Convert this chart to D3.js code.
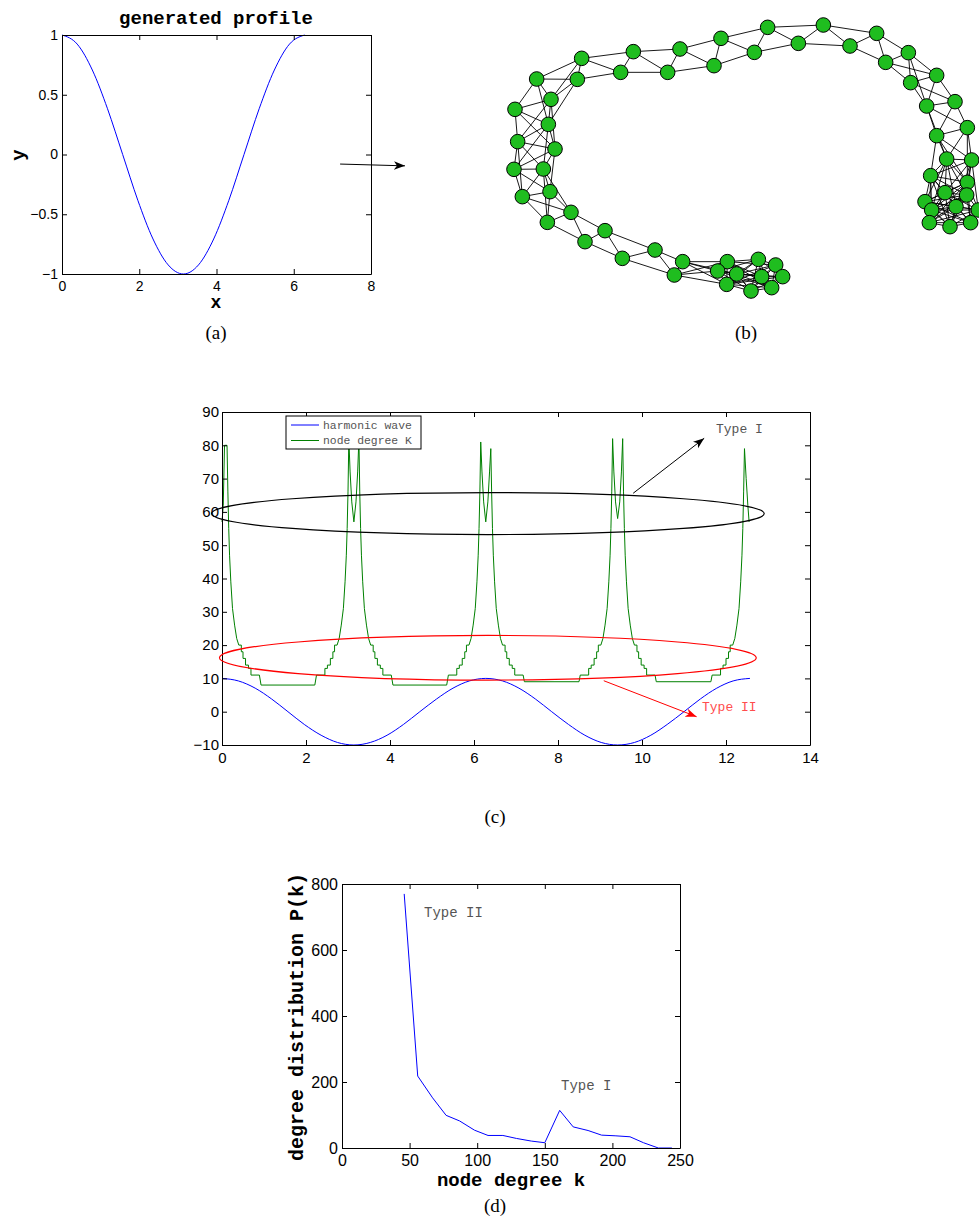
<!DOCTYPE html>
<html>
<head>
<meta charset="utf-8">
<script src="https://cdn.jsdelivr.net/npm/d3@7/dist/d3.min.js"></script>
<style>
  html, body { margin: 0; padding: 0; background: #fff; }
  svg { display: block; }
</style>
</head>
<body>
<script>
// ---------------- DATA ----------------
// (a) generated profile: y = cos(x) sampled at pi/8
const profileX = [0, 0.393, 0.785, 1.178, 1.571, 1.963, 2.356, 2.749, 3.142, 3.534, 3.927, 4.320, 4.712, 5.105, 5.498, 5.890, 6.283];
const profileY = [1, 0.924, 0.707, 0.383, 0, -0.383, -0.707, -0.924, -1, -0.924, -0.707, -0.383, 0, 0.383, 0.707, 0.924, 1];
const aXTicks = [0, 2, 4, 6, 8];
const aYTicks = [-1, -0.5, 0, 0.5, 1];

// (b) network layout (layout units)
const netNodes = [
  [140,207],[275,145],[262,208],[430,125],[392,187],[570,117],[533,187],[693,85],[672,167],[833,52],
  [793,127],[1000,45],[925,100],[1160,70],[1080,108],[1255,128],[1187,157],[1340,196],[1262,218],[1395,275],
  [1310,288],[1432,353],[1340,377],[1445,450],[1370,447],[1322,497],[1432,517],[1365,548],[1430,555],[1305,575],
  [1325,600],[1398,590],[1465,600],[1318,638],[1380,650],[1442,638],
  [183,268],[75,298],[175,343],[83,395],[195,417],[72,478],[160,477],[97,560],[180,545],[243,607],
  [172,637],[345,662],[285,695],[495,720],[397,745],[578,755],[553,795],[712,755],[683,783],[805,748],
  [857,765],[740,792],[815,800],[878,800],[710,823],[783,843],[845,833]
];
const linkRadius = 170;

// (c) harmonic wave (10 cos x) and node degree K
const waveX = [0, 0.39, 0.79, 1.18, 1.57, 1.96, 2.36, 2.75, 3.14, 3.53, 3.93, 4.32, 4.71, 5.11, 5.50, 5.89, 6.28,
               6.68, 7.07, 7.46, 7.85, 8.25, 8.64, 9.03, 9.42, 9.82, 10.21, 10.60, 11.00, 11.39, 11.78, 12.17, 12.57];
const waveY = [10, 9.24, 7.07, 3.83, 0, -3.83, -7.07, -9.24, -10, -9.24, -7.07, -3.83, 0, 3.83, 7.07, 9.24, 10,
               9.24, 7.07, 3.83, 0, -3.83, -7.07, -9.24, -10, -9.24, -7.07, -3.83, 0, 3.83, 7.07, 9.24, 10];
const degreeK = [
  [0,57],[0.03,62],[0.06,80],[0.12,80],
  [0.14,66],[0.16,55],[0.18,47],[0.21,39],[0.25,31],[0.30,26],[0.35,22],[0.40,20],[0.46,20],[0.46,18],[0.50,18],[0.50,16],[0.56,16],[0.56,14],[0.63,14],[0.63,13],[0.69,13],[0.69,11],[0.89,11],[0.93,8],
  [2.21,8],[2.25,11],[2.45,11],[2.45,13],[2.51,13],[2.51,14],[2.58,14],[2.58,16],[2.64,16],[2.64,18],[2.68,18],[2.68,20],[2.74,20],[2.79,22],[2.84,26],[2.89,31],[2.93,39],[2.96,47],[2.98,55],[3.00,66],[3.02,82],
  [3.05,72],[3.09,63],[3.14,57],[3.19,63],[3.23,72],[3.26,82],
  [3.28,66],[3.30,55],[3.32,47],[3.35,39],[3.39,31],[3.44,26],[3.49,22],[3.54,20],[3.60,20],[3.60,18],[3.64,18],[3.64,16],[3.70,16],[3.70,14],[3.77,14],[3.77,13],[3.83,13],[3.83,11],[4.03,11],[4.07,8],
  [5.35,8],[5.39,11],[5.59,11],[5.59,13],[5.65,13],[5.65,14],[5.72,14],[5.72,16],[5.78,16],[5.78,18],[5.82,18],[5.82,20],[5.88,20],[5.93,22],[5.98,26],[6.03,31],[6.07,39],[6.10,47],[6.12,55],[6.14,66],[6.16,81],
  [6.19,72],[6.23,63],[6.28,57],[6.33,63],[6.37,72],[6.40,79],
  [6.42,66],[6.44,55],[6.46,47],[6.49,39],[6.53,31],[6.58,26],[6.63,22],[6.68,20],[6.74,20],[6.74,18],[6.78,18],[6.78,16],[6.84,16],[6.84,14],[6.91,14],[6.91,13],[6.97,13],[6.97,11],[7.17,11],[7.20,9],
  [8.50,9],[8.53,11],[8.73,11],[8.73,13],[8.79,13],[8.79,14],[8.86,14],[8.86,16],[8.92,16],[8.92,18],[8.96,18],[8.96,20],[9.02,20],[9.07,22],[9.12,26],[9.17,31],[9.21,39],[9.24,47],[9.26,55],[9.28,66],[9.30,82],
  [9.33,72],[9.37,63],[9.42,58],[9.47,63],[9.51,72],[9.54,82],
  [9.56,66],[9.58,55],[9.60,47],[9.63,39],[9.67,31],[9.72,26],[9.77,22],[9.82,20],[9.88,20],[9.88,18],[9.92,18],[9.92,16],[9.98,16],[9.98,14],[10.05,14],[10.05,13],[10.11,13],[10.11,11],[10.31,11],[10.34,9],
  [11.64,9],[11.67,11],[11.87,11],[11.87,13],[11.93,13],[11.93,14],[12.00,14],[12.00,16],[12.06,16],[12.06,18],[12.10,18],[12.10,20],[12.16,20],[12.21,22],[12.26,26],[12.31,31],[12.35,39],[12.38,47],[12.40,55],[12.42,66],[12.44,79],
  [12.48,70],[12.52,62],[12.55,57]
];
const cXTicks = [0, 2, 4, 6, 8, 10, 12, 14];
const cYTicks = [-10, 0, 10, 20, 30, 40, 50, 60, 70, 80, 90];
const cLegend = ["harmonic wave", "node degree K"];

// (d) degree distribution
const degK = [46, 56, 67, 77, 87, 98, 108, 119, 129, 140, 150, 161, 171, 182, 192, 202, 213, 223, 234, 244];
const degP = [770, 218, 152, 99, 82, 54, 38, 38, 29, 21, 16, 114, 64, 53, 39, 37, 34, 16, 0, 0];
const dXTicks = [0, 50, 100, 150, 200, 250];
const dYTicks = [0, 200, 400, 600, 800];

// ---------------- DRAWING ----------------
const W = 979, H = 1224;
const svg = d3.select("body").append("svg").attr("width", W).attr("height", H);
svg.append("rect").attr("width", W).attr("height", H).attr("fill", "#fff");

const MONO = "'Liberation Mono', 'Courier New', monospace";
const SANS = "'Liberation Sans', Arial, Helvetica, sans-serif";
const SERIF = "'Liberation Serif', 'DejaVu Serif', serif";

// arrow markers
const defs = svg.append("defs");
function marker(id, color) {
  defs.append("marker").attr("id", id)
    .attr("markerUnits", "userSpaceOnUse")
    .attr("markerWidth", 12).attr("markerHeight", 10)
    .attr("refX", 11).attr("refY", 5).attr("orient", "auto")
    .append("path").attr("d", "M0,0.8 L11,5 L0,9.2 L3,5 Z").attr("fill", color);
}
marker("arrK", "#000");
marker("arrR", "#ff0000");

const minus = d => (d < 0 ? "\u2212" : "") + Math.abs(d);

function boxAxes(g, x, y, xt, yt, fs, padX, padY) {
  const [x0, x1] = x.range();
  const [y0, y1] = y.range();
  const gb = g.append("g").attr("transform", `translate(0,${y0})`)
    .call(d3.axisBottom(x).tickValues(xt).tickSizeInner(-5).tickSizeOuter(0).tickPadding(padX).tickFormat(minus));
  const gt = g.append("g").attr("transform", `translate(0,${y1})`)
    .call(d3.axisTop(x).tickValues(xt).tickSizeInner(-5).tickSizeOuter(0).tickFormat(""));
  const gl = g.append("g").attr("transform", `translate(${x0},0)`)
    .call(d3.axisLeft(y).tickValues(yt).tickSizeInner(-5).tickSizeOuter(0).tickPadding(padY).tickFormat(minus));
  const gr = g.append("g").attr("transform", `translate(${x1},0)`)
    .call(d3.axisRight(y).tickValues(yt).tickSizeInner(-5).tickSizeOuter(0).tickFormat(""));
  [gb, gt, gl, gr].forEach(a => {
    a.selectAll("path.domain").attr("stroke", "#000").attr("stroke-width", 1);
    a.selectAll(".tick line").attr("stroke", "#000").attr("stroke-width", 1);
    a.selectAll(".tick text").attr("fill", "#000").attr("font-family", SANS).attr("font-size", fs);
  });
}

// ---------- Panel (a) ----------
{
  const g = svg.append("g");
  const x = d3.scaleLinear().domain([0, 8]).range([62, 371]);
  const y = d3.scaleLinear().domain([-1, 1]).range([274, 35]);
  const line = d3.line().x((d, i) => x(profileX[i])).y(d => y(d)).curve(d3.curveMonotoneX);
  g.append("path").datum(profileY).attr("d", line).attr("fill", "none").attr("stroke", "#0000ff").attr("stroke-width", 1);
  boxAxes(g, x, y, aXTicks, aYTicks, 14, 7, 4);
  g.append("text").attr("x", 216).attr("y", 24).attr("text-anchor", "middle")
    .attr("font-family", MONO).attr("font-weight", "bold").attr("font-size", 19).text("generated profile");
  g.append("text").attr("transform", "translate(24,155) rotate(-90)").attr("text-anchor", "middle")
    .attr("font-family", MONO).attr("font-weight", "bold").attr("font-size", 19).text("y");
  g.append("text").attr("x", 216).attr("y", 308).attr("text-anchor", "middle")
    .attr("font-family", MONO).attr("font-weight", "bold").attr("font-size", 18).text("x");
  // arrow pointing to (b)
  g.append("line").attr("x1", x(7.2)).attr("y1", y(-0.08)).attr("x2", x(8.88)).attr("y2", y(-0.095))
    .attr("stroke", "#000").attr("stroke-width", 1).attr("marker-end", "url(#arrK)");
  svg.append("text").attr("x", 216).attr("y", 339).attr("text-anchor", "middle")
    .attr("font-family", SERIF).attr("font-size", 19).text("(a)");
}

// ---------- Panel (b) ----------
{
  const g = svg.append("g");
  const x = d3.scaleLinear().domain([0, 1467]).range([490, 979]);
  const y = d3.scaleLinear().domain([0, 900]).range([10, 310]);
  const links = [];
  for (let i = 0; i < netNodes.length; i++) {
    for (let j = i + 1; j < netNodes.length; j++) {
      const dx = netNodes[i][0] - netNodes[j][0], dy = netNodes[i][1] - netNodes[j][1];
      if (Math.hypot(dx, dy) < linkRadius) links.push([i, j]);
    }
  }
  g.append("g").selectAll("line").data(links).join("line")
    .attr("x1", d => x(netNodes[d[0]][0])).attr("y1", d => y(netNodes[d[0]][1]))
    .attr("x2", d => x(netNodes[d[1]][0])).attr("y2", d => y(netNodes[d[1]][1]))
    .attr("stroke", "#000").attr("stroke-width", 0.9);
  g.append("g").selectAll("circle").data(netNodes).join("circle")
    .attr("cx", d => x(d[0])).attr("cy", d => y(d[1])).attr("r", 7.3)
    .attr("fill", "#1fbd1f").attr("stroke", "#000").attr("stroke-width", 1);
  svg.append("text").attr("x", 746).attr("y", 339).attr("text-anchor", "middle")
    .attr("font-family", SERIF).attr("font-size", 19).text("(b)");
}

// ---------- Panel (c) ----------
{
  const g = svg.append("g");
  const x = d3.scaleLinear().domain([0, 14]).range([222, 810]);
  const y = d3.scaleLinear().domain([-10, 90]).range([745, 412]);
  const wave = d3.line().x((d, i) => x(waveX[i])).y(d => y(d)).curve(d3.curveMonotoneX);
  g.append("path").datum(waveY).attr("d", wave).attr("fill", "none").attr("stroke", "#0000ff").attr("stroke-width", 1);
  const kline = d3.line().x(d => x(d[0])).y(d => y(d[1]));
  g.append("path").datum(degreeK).attr("d", kline).attr("fill", "none").attr("stroke", "#008000").attr("stroke-width", 1);
  boxAxes(g, x, y, cXTicks, cYTicks, 15, 7, 3);

  // legend
  const lg = g.append("g");
  lg.append("rect").attr("x", 286).attr("y", 416).attr("width", 135).attr("height", 33)
    .attr("fill", "#fff").attr("stroke", "#000").attr("stroke-width", 1);
  const lcol = ["#0000ff", "#008000"];
  cLegend.forEach((t, i) => {
    const yy = 425 + i * 15.5;
    lg.append("line").attr("x1", 291).attr("x2", 319).attr("y1", yy).attr("y2", yy).attr("stroke", lcol[i]).attr("stroke-width", 1);
    lg.append("text").attr("x", 323).attr("y", yy + 3.5).attr("font-family", MONO).attr("font-size", 11.4)
      .attr("fill", "#555").text(t);
  });

  // ellipses (annotation, in data units)
  const ell = (cx, cy, rx, ry, col) => g.append("ellipse")
    .attr("cx", x(cx)).attr("cy", y(cy))
    .attr("rx", x(cx + rx) - x(cx)).attr("ry", y(cy - ry) - y(cy))
    .attr("fill", "none").attr("stroke", col).attr("stroke-width", 1.2);
  ell(6.33, 59.5, 6.58, 6.3, "#000");
  ell(6.33, 16.2, 6.39, 6.7, "#ff0000");

  g.append("line").attr("x1", x(9.79)).attr("y1", y(65.6)).attr("x2", x(11.48)).attr("y2", y(82.1))
    .attr("stroke", "#000").attr("stroke-width", 1).attr("marker-end", "url(#arrK)");
  g.append("line").attr("x1", x(9.09)).attr("y1", y(9.3)).attr("x2", x(11.3)).attr("y2", y(-1.5))
    .attr("stroke", "#ff0000").attr("stroke-width", 1).attr("marker-end", "url(#arrR)");
  g.append("text").attr("x", 716).attr("y", 433).attr("font-family", MONO).attr("font-size", 13)
    .attr("fill", "#555").text("Type I");
  g.append("text").attr("x", 702).attr("y", 711).attr("font-family", MONO).attr("font-size", 13)
    .attr("fill", "#ff4d4d").text("Type II");

  svg.append("text").attr("x", 495).attr("y", 823).attr("text-anchor", "middle")
    .attr("font-family", SERIF).attr("font-size", 19).text("(c)");
}

// ---------- Panel (d) ----------
{
  const g = svg.append("g");
  const x = d3.scaleLinear().domain([0, 250]).range([342, 680]);
  const y = d3.scaleLinear().domain([0, 800]).range([1148, 884]);
  const line = d3.line().x((d, i) => x(degK[i])).y(d => y(d));
  g.append("path").datum(degP).attr("d", line).attr("fill", "none").attr("stroke", "#0000ff").attr("stroke-width", 1);
  boxAxes(g, x, y, dXTicks, dYTicks, 16, 7, 4);
  g.append("text").attr("transform", "translate(303,1017) rotate(-90)").attr("text-anchor", "middle")
    .attr("font-family", MONO).attr("font-weight", "bold").attr("font-size", 20).text("degree distribution P(k)");
  g.append("text").attr("x", 511).attr("y", 1186).attr("text-anchor", "middle")
    .attr("font-family", MONO).attr("font-weight", "bold").attr("font-size", 19).text("node degree k");
  g.append("text").attr("x", 424).attr("y", 917).attr("font-family", MONO).attr("font-size", 14)
    .attr("fill", "#555").text("Type II");
  g.append("text").attr("x", 561).attr("y", 1090).attr("font-family", MONO).attr("font-size", 14)
    .attr("fill", "#555").text("Type I");
  svg.append("text").attr("x", 495).attr("y", 1212).attr("text-anchor", "middle")
    .attr("font-family", SERIF).attr("font-size", 19).text("(d)");
}
</script>
</body>
</html>
